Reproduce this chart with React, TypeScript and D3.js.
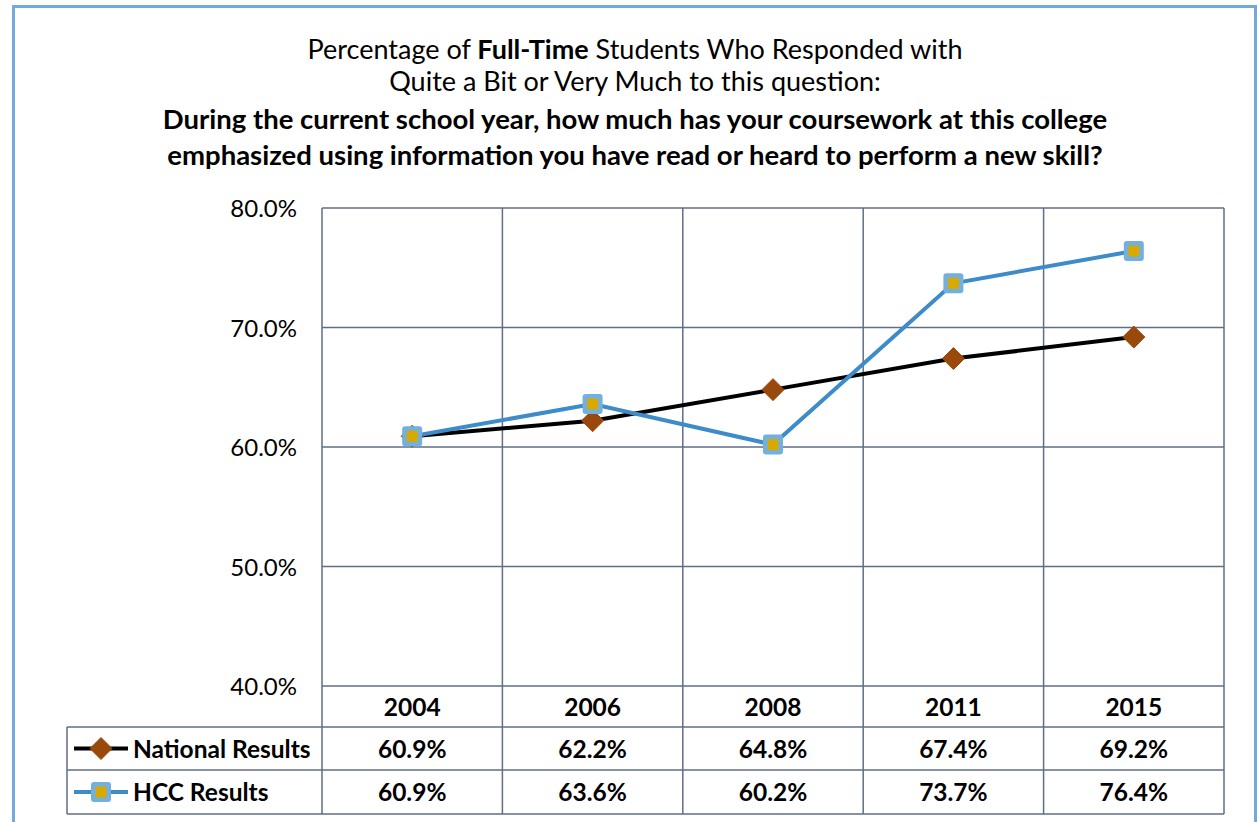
import * as d3 from "d3";

const years = ["2004", "2006", "2008", "2011", "2015"];
const nationalValues = [60.9, 62.2, 64.8, 67.4, 69.2];
const hccValues = [60.9, 63.6, 60.2, 73.7, 76.4];
const yTicks = [40, 50, 60, 70, 80];

const W = 1259;
const H = 822;
const plot = { left: 322, right: 1224, top: 208, bottom: 686 };
const rowLines = [686, 727, 770, 814];
const tableLeft = 67;
const font = "Lato, 'Open Sans', sans-serif";

const gridColor = "#5f6f86";
const hccLine = "#3d8cc9";
const hccFill = "#72b0e0";
const hccInner = "#d9a900";
const natFill = "#99490b";

function Diamond({ x, y }: { x: number; y: number }) {
  const r = 11;
  return (
    <path
      d={`M${x},${y - r}L${x + r},${y}L${x},${y + r}L${x - r},${y}Z`}
      fill={natFill}
      stroke={natFill}
      strokeWidth={1}
      strokeLinejoin="round"
    />
  );
}

function SquareMark({ x, y }: { x: number; y: number }) {
  return (
    <g>
      <rect x={x - 10} y={y - 10} width={20} height={20} rx={3} fill={hccFill} />
      <rect x={x - 5.5} y={y - 5.5} width={11} height={11} fill={hccInner} />
    </g>
  );
}

export default function App() {
  const x = d3
    .scaleBand<string>()
    .domain(years)
    .range([plot.left, plot.right]);
  const y = d3.scaleLinear().domain([40, 80]).range([plot.bottom, plot.top]);
  const cx = (d: string) => (x(d) ?? 0) + x.bandwidth() / 2;

  const line = d3
    .line<number>()
    .x((_, i) => cx(years[i]))
    .y((v) => y(v));

  const vlines = [...years.map((d) => x(d) ?? 0), plot.right];
  const rows = [
    { label: "National Results", values: nationalValues, kind: "nat" },
    { label: "HCC Results", values: hccValues, kind: "hcc" },
  ];

  return (
    <svg
      width={W}
      height={H}
      style={{ position: "absolute", left: 0, top: 0, background: "#fff" }}
      fontFamily={font}
    >
      {/* outer frame */}
      <rect x={13.5} y={6.5} width={1242} height={830} fill="none" stroke="#72aadc" strokeWidth={3} />

      {/* title */}
      <g textAnchor="middle" fill="#000" fontSize={27}>
        <text x={635} y={59}>
          Percentage of <tspan fontWeight="bold">Full-Time</tspan> Students Who Responded with
        </text>
        <text x={635} y={91}>Quite a Bit or Very Much to this question:</text>
        <text x={635} y={129} fontWeight="bold" fontSize={27.5}>
          During the current school year, how much has your coursework at this college
        </text>
        <text x={635} y={165} fontWeight="bold" fontSize={27.5}>
          emphasized using information you have read or heard to perform a new skill?
        </text>
      </g>

      {/* gridlines */}
      <g stroke={gridColor} strokeWidth={1.5}>
        {yTicks.map((t) => (
          <line key={t} x1={plot.left} x2={plot.right} y1={y(t)} y2={y(t)} />
        ))}
        {vlines.map((v, i) => (
          <line key={i} x1={v} x2={v} y1={plot.top} y2={rowLines[3]} />
        ))}
        {rowLines.slice(1).map((r, i) => (
          <line key={"r" + i} x1={tableLeft} x2={plot.right} y1={r} y2={r} />
        ))}
        <line x1={tableLeft} x2={tableLeft} y1={rowLines[1]} y2={rowLines[3]} />
      </g>

      {/* y tick labels */}
      <g textAnchor="end" fontSize={24} fill="#000">
        {yTicks.map((t) => (
          <text key={t} x={297} y={y(t) + 9}>
            {t.toFixed(1)}%
          </text>
        ))}
      </g>

      {/* lines */}
      <path d={line(nationalValues) ?? ""} fill="none" stroke="#000" strokeWidth={4} />
      <path d={line(hccValues) ?? ""} fill="none" stroke={hccLine} strokeWidth={4} />
      {nationalValues.map((v, i) => (
        <Diamond key={i} x={cx(years[i])} y={y(v)} />
      ))}
      {hccValues.map((v, i) => (
        <SquareMark key={i} x={cx(years[i])} y={y(v)} />
      ))}

      {/* table */}
      <g fontWeight="bold" fontSize={24.5} textAnchor="middle" fill="#000">
        {years.map((d) => (
          <text key={d} x={cx(d)} y={(rowLines[0] + rowLines[1]) / 2 + 9}>
            {d}
          </text>
        ))}
        {rows.map((r, ri) => {
          const yc = (rowLines[ri + 1] + rowLines[ri + 2]) / 2;
          return (
            <g key={r.label}>
              {r.values.map((v, i) => (
                <text key={i} x={cx(years[i])} y={yc + 9}>
                  {v.toFixed(1)}%
                </text>
              ))}
              <line
                x1={74}
                x2={128}
                y1={yc}
                y2={yc}
                stroke={r.kind === "nat" ? "#000" : hccLine}
                strokeWidth={4}
              />
              {r.kind === "nat" ? <Diamond x={101} y={yc} /> : <SquareMark x={101} y={yc} />}
              <text x={133} y={yc + 9} textAnchor="start">
                {r.label}
              </text>
            </g>
          );
        })}
      </g>
    </svg>
  );
}
